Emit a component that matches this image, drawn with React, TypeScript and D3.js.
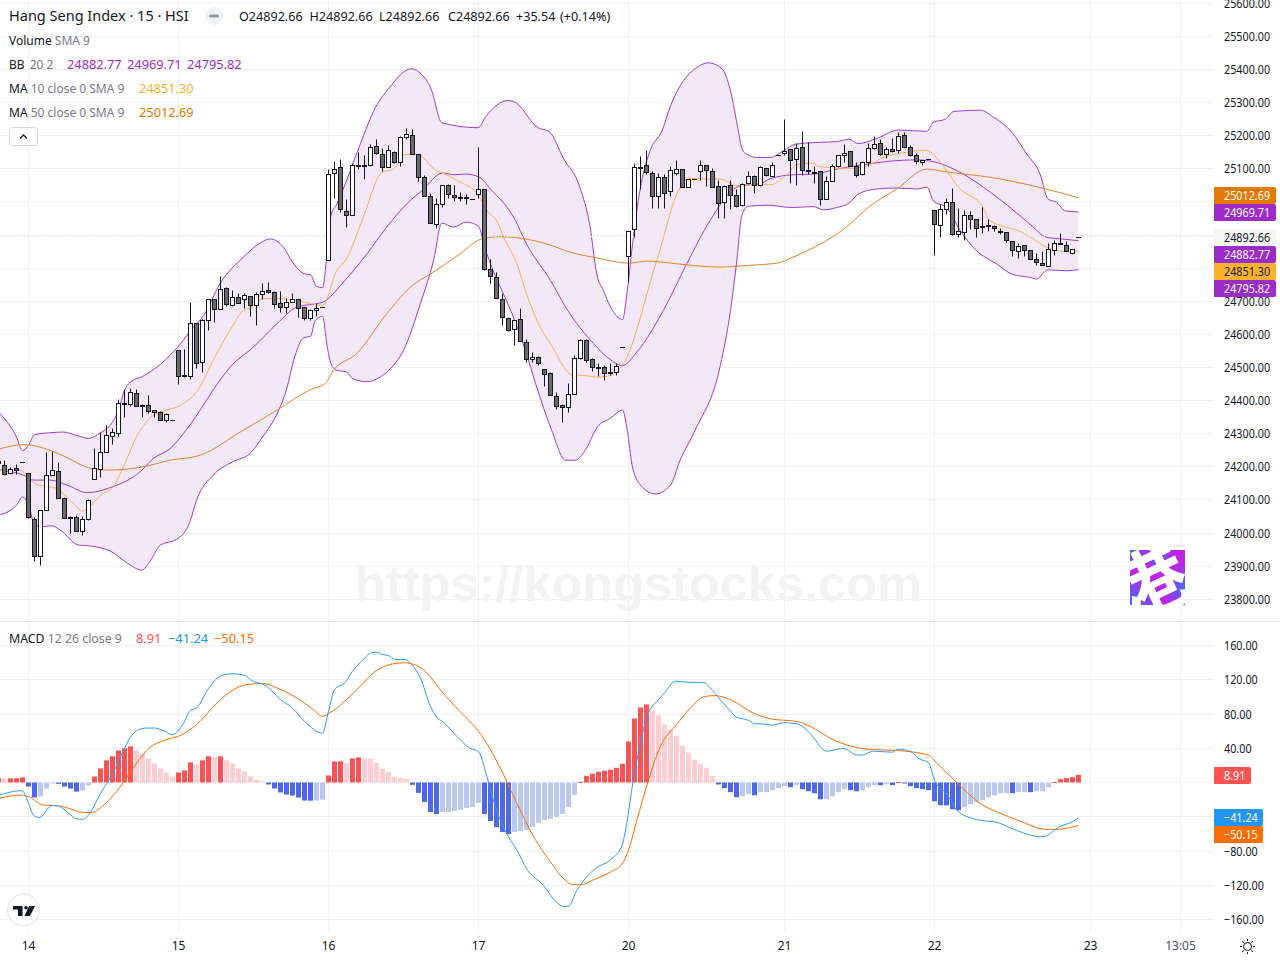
import * as d3 from "d3";
import * as React from "react";

const width = 1280;
const height = 960;
const font = "'Noto Sans', sans-serif";

// candles, one per 15 minute bar
const opens = [
  24217,24203,24180,24194,24214,24179,24041,23929,24068,24173,
  24185,24104,24048,24047,24005,24041,24162,24192,24243,24291,
  24300,24391,24388,24421,24386,24385,24369,24364,24339,24339,
  24551,24475,24472,24632,24515,24641,24704,24674,24738,24686,
  24710,24704,24714,24686,24720,24732,24726,24692,24680,24695,
  24704,24680,24647,24671,24680,24822,25087,25105,24970,24958,
  25111,25110,25111,25166,25142,25105,25148,25118,25193,25202,
  25142,25075,25015,24931,24991,25051,25018,25012,25012,25006,
  25021,25036,24795,24771,24704,24647,24614,24644,24575,24524,
  24530,24493,24481,24412,24385,24379,24418,24527,24581,24524,
  24499,24499,24484,24484,24560,24834,24916,25105,25111,25087,
  25015,25075,25030,25087,25099,25042,25069,25093,25111,25093,
  25045,24997,25051,25018,24988,25057,25078,25051,25102,25078,
  25141,25147,25159,25129,25165,25096,25090,25093,25006,25063,
  25108,25141,25153,25108,25084,25120,25162,25177,25144,25159,
  25156,25201,25165,25141,25120,25129,24975,24930,24978,24999,
  24903,24909,24960,24948,24927,24930,24927,24912,24909,24879,
  24849,24867,24852,24825,24813,24804,24852,24872,24867,24843,
  24892.66,
];
const highs = [
  24225,24220,24198,24207,24214,24179,24047,24067,24243,24247,
  24213,24107,24051,24053,24051,24101,24255,24305,24324,24315,
  24404,24434,24436,24433,24389,24416,24371,24366,24360,24339,
  24551,24555,24695,24632,24644,24704,24704,24775,24741,24733,
  24723,24723,24714,24726,24753,24757,24729,24729,24708,24723,
  24704,24680,24674,24692,24680,25099,25121,25127,25006,25115,
  25150,25140,25172,25187,25160,25169,25151,25196,25221,25218,
  25142,25081,25024,25009,25051,25054,25051,25027,25021,25006,
  25163,25036,24825,24786,24723,24650,24641,24677,24584,24545,
  24533,24493,24484,24424,24388,24451,24536,24584,24584,24527,
  24512,24505,24512,24512,24560,24912,25115,25136,25154,25093,
  25087,25084,25108,25124,25099,25069,25069,25124,25111,25102,
  25066,25051,25066,25036,25057,25093,25081,25108,25102,25120,
  25141,25250,25159,25177,25214,25180,25108,25093,25078,25114,
  25141,25174,25153,25120,25123,25177,25198,25189,25165,25192,
  25211,25211,25171,25147,25126,25129,24975,24993,25009,25039,
  24981,24975,24972,24948,24984,24948,24930,24921,24909,24879,
  24873,24867,24852,24843,24849,24873,24882,24906,24879,24855,
  24892.66,
];
const lows = [
  24202,24173,24178,24178,24214,24043,23915,23903,24068,24173,
  24104,24044,23998,24004,23994,24037,24162,24169,24243,24268,
  24293,24350,24383,24381,24350,24360,24348,24339,24335,24339,
  24449,24471,24465,24498,24486,24613,24637,24674,24685,24683,
  24692,24677,24655,24627,24704,24723,24679,24667,24663,24695,
  24651,24643,24641,24653,24680,24822,25011,24967,24924,24958,
  25097,25068,25108,25142,25092,25105,25115,25108,25187,25142,
  25063,25015,24934,24921,24984,25009,25002,25000,24991,25006,
  25009,24792,24753,24707,24626,24608,24565,24578,24515,24515,
  24505,24444,24415,24373,24333,24363,24418,24524,24515,24487,
  24472,24460,24475,24475,24560,24758,24894,25038,25084,24979,
  24979,24979,25015,25081,25042,25042,25069,25066,25048,25042,
  24949,24949,24976,24982,24985,25054,25024,25048,25078,25078,
  25141,25141,25057,25051,25081,25084,25057,24990,25006,25063,
  25105,25120,25108,25074,25081,25108,25159,25141,25132,25150,
  25147,25165,25138,25114,25111,25129,24837,24891,24963,24900,
  24891,24882,24918,24894,24906,24912,24912,24903,24876,24834,
  24828,24834,24825,24807,24807,24804,24837,24872,24849,24840,
  24892.66,
];
const closes = [
  24210,24176,24192,24190,24214,24047,23929,24067,24173,24189,
  24104,24044,24044,24005,24040,24098,24195,24243,24294,24303,
  24391,24388,24424,24382,24383,24367,24364,24339,24357,24339,
  24472,24473,24632,24512,24641,24704,24674,24735,24689,24710,
  24692,24717,24686,24720,24729,24726,24689,24680,24695,24704,
  24677,24647,24671,24677,24680,25084,25099,24976,24958,25111,
  25108,25108,25163,25145,25105,25154,25118,25193,25205,25142,
  25075,25015,24934,24991,25051,25021,25012,25009,25009,25006,
  25036,24795,24774,24707,24650,24611,24641,24578,24524,24530,
  24512,24478,24415,24382,24379,24418,24527,24581,24521,24499,
  24496,24481,24481,24502,24560,24912,25105,25104,25090,25015,
  25075,25024,25096,25099,25042,25069,25069,25111,25096,25042,
  24994,25048,25018,24985,25054,25078,25051,25105,25081,25111,
  25141,25153,25126,25162,25096,25093,25089,25006,25063,25108,
  25141,25147,25108,25081,25120,25162,25174,25144,25159,25153,
  25198,25165,25141,25123,25126,25129,24933,24978,24999,24903,
  24912,24960,24948,24921,24924,24927,24921,24911,24882,24852,
  24864,24852,24825,24816,24807,24855,24873,24873,24849,24855,
  24892.66,
];

// indicator lines as [bar, value]
const bbUpper = [
  [0,24365],[3,24290],[4,24249],[5,24265],[6,24297],[8.6,24303],[10.8,24305],[13,24295],[15,24286],[17,24303],[18.6,24325],[20,24371],[21,24431],[22,24456],
  [24,24473],[27,24510],[28.6,24537],[30.8,24582],[32,24612],[34.2,24657],[36.9,24753],[40.8,24833],[43,24868],[45.3,24888],[47.5,24863],[49,24818],[51,24783],[52,24780],[53,24745],[54,24741],
  [54.8,24853],[55.4,24959],[56.4,24994],[58,25064],[60.3,25175],[62.8,25284],[65.1,25344],[68.8,25402],[70,25393],[72.1,25341],[73.9,25239],[79.9,25224],[81.3,25260],[84.9,25306],[85.9,25303],[89.9,25224],[91.8,25212],
  [94.2,25130],[96.9,25044],[98.6,24924],[99.7,24783],[100.8,24733],[102.5,24667],[104,24645],[104.8,24733],[105.8,24893],[106.9,25034],[108.6,25155],[110.6,25215],[112,25290],[113.6,25350],[116.1,25402],[118.3,25420],[120.6,25402],[122,25335],
  [123.3,25215],[123.9,25161],[124.8,25143],[126.5,25134],[128.6,25134],[130.8,25154],[132.8,25174],[135.8,25179],[139.7,25182],[141.7,25189],[143.3,25176],[146.4,25192],[150,25217],[154.7,25213],[155.8,25240],[157.8,25250],[159.2,25273],[163.6,25277],[165.9,25255],[168.9,25210],[171.4,25144],[173.6,25084],[174.9,25009],[176.4,24998],[177.8,24973],[180,24969.71],
];
const bbLower = [
  [0,24054],[3,24084],[4,24109],[5,24084],[6,24026],[7,24019],[8.9,24022],[10.3,24009],[13.3,23964],[15.3,23961],[18.9,23943],[21.4,23910],[23.9,23888],[25,23908],[27,23964],[29.7,23981],[31.9,24034],[33,24099],[35.8,24175],[39,24215],[41.9,24240],[44,24290],[46.7,24371],
  [48,24433],[49.2,24522],[50.9,24590],[52,24594],[52.8,24642],[54,24654],[54.8,24562],[55.3,24517],[56.2,24493],[58,24486],[59.1,24466],[61.4,24457],[63.6,24471],[65.3,24496],[67.5,24552],[70.3,24692],[72.5,24823],[73.9,24936],[75.8,24924],[78,24939],[80,24926],[81.1,24858],[82,24813],
  [85.8,24652],[87.8,24552],[89.7,24441],[92.2,24310],[94.5,24220],[96.1,24220],[97.8,24250],[99.8,24320],[102,24347],[104,24371],[104.8,24310],[105.6,24205],[107,24145],[109.5,24118],[112,24145],[113.6,24220],[116.1,24310],[120.3,24506],[122,24672],[123,24815],[123.9,24959],[125,24987],
  [128.6,24990],[130.3,24986],[132.5,24983],[135.8,24986],[137.5,24976],[139.7,24983],[141.9,24998],[143.3,25024],[146.4,25039],[149.7,25042],[153,25039],[154.8,25044],[155.8,25003],[158,24983],[160.3,24913],[163,24853],[166.3,24813],[168.9,24782],[171.9,24772],[173,24767],[174.9,24795],[178,24792],[180,24795.82],
];
const bbMiddle = [
  [0,24190],[4.2,24175],[5.8,24160],[8.6,24160],[11.4,24145],[14.8,24122],[18.9,24139],[23.6,24185],[25.8,24225],[28.6,24255],[30.8,24300],[33.6,24371],[35.8,24433],[38.6,24501],[42.5,24562],[46.4,24632],[49.7,24682],[54,24697],[57.5,24758],[61.4,24843],[64.7,24924],[68.6,25004],[70.6,25034],[74,25087],[76,25082],[77.8,25084],[80,25076],[82,25039],
  [86,24949],[88,24873],[92,24763],[94.7,24677],[99.2,24572],[101.4,24532],[104,24506],[106.4,24547],[110.8,24672],[114.7,24813],[118.6,24944],[123,25044],[124,25049],[127,25055],[128.6,25070],[132.5,25082],[135.8,25084],[139.7,25099],[144.7,25114],[149.2,25124],[153,25127],[156.4,25119],[160.8,25084],[165.3,25029],[168.6,24983],[171.9,24933],[174.7,24893],[177.3,24888],[180,24882.77],
];
const ma10 = [
  [0,24190],[3.6,24190],[5,24170],[6.1,24149],[7.5,24142],[9.5,24136],[12.5,24089],[14,24066],[15.4,24084],[17,24114],[19.2,24141],[20.8,24200],[23.6,24310],[25.8,24355],[27.5,24368],[30.8,24391],[33.3,24433],[35.8,24522],[38.9,24622],[40.8,24672],[42.2,24682],[44.2,24708],[47,24708],[50.3,24700],[54,24687],
  [56.4,24793],[58,24828],[60.8,24954],[63.9,25089],[65.8,25099],[67.8,25143],[69.8,25143],[73.2,25092],[74,25087],[76.5,25064],[80,25020],[81.4,24974],[83,24944],[84.2,24893],[86.4,24813],[88,24723],[90,24632],[92,24572],[95.6,24478],[97.5,24476],[100,24471],[102,24476],[104,24506],
  [109.7,24823],[113.6,25044],[115,25072],[117.5,25069],[120.3,25069],[123,25049],[126.4,25054],[128.6,25052],[131.4,25082],[133,25112],[135.8,25117],[136.6,25107],[141.9,25101],[144.7,25109],[147.5,25134],[150.9,25149],[154.7,25156],[157,25119],[160,25044],[164.2,24981],[165,24948],[168,24923],[170,24913],[172,24893],[175.3,24858],[178,24850],[180,24851.3],
];
const ma50 = [
  [0,24253],[4.2,24267],[8.6,24250],[11.4,24228],[15,24197],[18,24190],[24.7,24202],[28.6,24220],[33.6,24235],[40.3,24305],[46.4,24371],[52,24433],[54.4,24451],[55.8,24491],[59.7,24542],[64.7,24662],[69.2,24751],[71.9,24781],[76.9,24843],[80.5,24888],[83.6,24895],[85.8,24893],[91.4,24873],[95.3,24848],[99.7,24831],[105,24815],[108,24821],[114.7,24810],[120,24803],[124.7,24808],[130,24816],[132,24830],[137,24873],[140.9,24918],[145.3,24988],[149.7,25039],[154.7,25099],[158.6,25089],[164.7,25076],[173,25046],[180,25012.69],
];
const macdLine = [
  [0,-15],[3.9,-9.5],[5,-24],[5.8,-38],[6.8,-41],[8.9,-27],[10,-27.5],[11.7,-36],[13,-42.4],[13.9,-43],[15,-38],[17,-12.7],[19.2,12.7],[20.6,34],[22,53],[23.3,61.6],[24.7,63.6],[26,63.6],[27.5,60.5],[29,55.8],[30.8,68.7],[32,84.3],[33,87],[35,109.7],[36.9,124],[38.9,127],[41.1,125],[42,120],[44.7,112.5],[47,96.8],[49,87],[51,71.4],[54,57.7],[55,83],[56,108.6],[57.8,117],[59,130],[60.3,140],
  [62.2,151.6],[63,152.3],[63.9,149.6],[65,148.4],[66.1,143.7],[67.8,143.7],[68.6,139.8],[70.3,122.2],[72,89],[73,76.5],[74.2,70.2],[76.4,53.8],[78.6,40],[80,36.2],[81.4,6.9],[83,-32.2],[85,-63.5],[86.4,-79],[88,-100.6],[90.8,-120],[93,-139.7],[94.2,-144.8],[95,-144.4],[96.4,-126],[98,-110.4],[99.7,-99.5],[101.9,-90.9],[103.9,-74],[104.7,-47.9],[105.8,3],[107,46],[108,75.3],[110,96.8],[111,104.6],[112.8,118.3],[115.3,117],[117.5,117],[118.6,110.5],[120.3,96.8],
  [121.4,88],[123,76.5],[125,72.6],[126,68.6],[127,68.6],[128.9,67],[130.8,69.8],[133,68.6],[135.8,53],[137.2,40],[138,36.6],[140.8,39.7],[143,32.3],[143.9,31.9],[145.8,36.6],[148.9,35.4],[150,38.9],[152,36.2],[153.6,27.2],[155,23.3],[156.1,1],[158,-12.7],[159.8,-33],[163,-43.2],[166.7,-47.1],[169,-54.1],[174,-63.5],[177,-51],[179,-45.9],[180,-41.24],
];
const signalLine = [
  [0,-18.5],[3.9,-14.6],[5,-16.6],[7.5,-26.3],[10,-27.1],[11.4,-29.5],[14.2,-35],[15.6,-35],[17.2,-28.3],[19.2,-14.6],[21.1,3],[23,22.5],[25.3,41.3],[27.5,49],[30.6,55.8],[33.6,71.4],[36.4,92.9],[39.2,108.5],[41.4,114.4],[44.2,115.6],[46.4,110.5],[49.7,98.8],[52.5,85],[54,77.3],[55,80.4],[58,96.8],[60.3,112.5],
  [62.5,128],[64.7,136.7],[67.5,139.8],[69.7,136.7],[71.4,128],[73.6,108.5],[76.9,83],[80,59.7],[82,38.2],[84.2,8.8],[86.4,-24.4],[89.2,-63.5],[92,-92.8],[94.2,-112.4],[95.8,-119.4],[97,-119.4],[99.2,-113.5],[102,-104.5],[103.9,-95.6],[105,-79],[106.4,-44],[108,-4.8],[110.3,42],[113,67.5],[115.3,87],[117.5,100],[119.2,101.5],[120.3,100.7],
  [122,96.8],[125.8,81],[129,74],[133,71.4],[135.8,63.6],[138.9,50.7],[143.6,40],[146.4,38.2],[149.7,37.4],[155,31.9],[156.4,22.5],[159.7,0],[163.6,-24.4],[166.4,-34.2],[170.3,-45.1],[174.2,-54.5],[175.8,-54.9],[178.7,-52.5],[180,-50.15],
];
const histogram = [
  5,4.7,4.8,4.9,5.9,-4.7,-17.6,-16.4,-7,-1,
  -1.5,-4.7,-7,-10.6,-9.4,-3.5,7,16.4,25.8,30.5,
  37.5,39.9,42.2,37.5,34,28.2,22.3,16.4,11.7,7,
  11.7,14.1,23.5,21.1,25.8,30.5,29.3,30.5,25.8,22.3,
  16.4,12.9,7,3.5,1.2,-2.3,-7,-11.7,-14.1,-15.2,
  -17.6,-21.1,-21.2,-21,-20,8.2,24.6,24.7,22.3,28.2,
  29.3,27.8,27.7,23,16,12.5,6.6,5.5,4.3,-2.7,
  -12.1,-22.7,-34.4,-36.8,-34.4,-34.3,-33.2,-32,-29.7,-28.5,
  -23.9,-36.8,-45,-52,-57.9,-60.2,-57.9,-56.7,-55.5,-52,
  -47.3,-43.8,-42.6,-40.3,-36.8,-28.5,-14.5,0.8,7.8,10.2,
  12.5,13.7,14.9,17.2,21.9,47.7,74.7,87.6,91.1,84,
  78.2,67.6,61.8,54.7,43,34.8,26.6,21.9,17.2,7.8,
  -2.3,-6.6,-11.3,-17.2,-16,-13.7,-14.9,-11.3,-11.2,-9,
  -6.6,-4.3,-5.5,-3.1,-7.8,-10.2,-12.5,-19.6,-19.5,-16,
  -11.3,-7.8,-9,-10.2,-9,-5.5,-3.1,-3.2,-2,-3.1,
  0.6,-0.6,-4.3,-6.6,-7.8,-9,-21.9,-26.6,-26.7,-31.3,
  -32.5,-28.9,-25.4,-23,-20.7,-17.2,-14.9,-12.5,-12.4,-12.5,
  -11.3,-11.2,-11.3,-10.2,-10.1,-5.5,0.6,3.9,5.1,6.3,
  8.91,
];

const priceTicks = d3.range(23800, 25700, 100);
// the three levels under the price tags have no visible label
const priceLabels = priceTicks.filter((t) => ![24800, 24900, 25000].includes(t));
const macdTicks = [160, 120, 80, 40, 0, -40, -80, -120, -160];
const macdLabels = [160, 120, 80, 40, -80, -120, -160];
const timeBars = [5, 30, 55, 80, 105, 131, 156, 182, 197];
const timeLabels = ["14", "15", "16", "17", "20", "21", "22", "23", "13:05"];

const priceTags = [
  { value: "25012.69", cy: 195.5, w: 62, bg: "#e57a00", fg: "#fff" },
  { value: "24969.71", cy: 212.5, w: 62, bg: "#9c2bc9", fg: "#fff" },
  { value: "24892.66", cy: 237.5, w: 62, bg: "#f6f6f6", fg: "#131722" },
  { value: "24882.77", cy: 254.5, w: 62, bg: "#9c2bc9", fg: "#fff" },
  { value: "24851.30", cy: 271.5, w: 62, bg: "#fbb22b", fg: "#131722" },
  { value: "24795.82", cy: 288.5, w: 62, bg: "#9c2bc9", fg: "#fff" },
  { value: "8.91", cy: 775.5, w: 37, bg: "#ff5252", fg: "#fff" },
  { value: "−41.24", cy: 817.5, w: 49, bg: "#2196f3", fg: "#fff" },
  { value: "−50.15", cy: 834.5, w: 49, bg: "#ff6d00", fg: "#fff" },
];
const ohlcText = [
  { x: 239, t: "O24892.66" },
  { x: 309.5, t: "H24892.66" },
  { x: 379, t: "L24892.66" },
  { x: 448, t: "C24892.66" },
  { x: 516, t: "+35.54" },
  { x: 560, t: "(+0.14%)" },
];
const bbText = [
  { x: 67, t: "24882.77" },
  { x: 127, t: "24969.71" },
  { x: 187, t: "24795.82" },
];

const x = d3.scaleLinear().domain([0, 180]).range([-1.5, 1078.5]);
const y = d3.scaleLinear().domain([23800, 25600]).range([599.3, 3.2]);
const yMacd = d3.scaleLinear().domain([-160, 160]).range([919.5, 645.5]);

const crisp = (v: number) => Math.round(v - 0.5) + 0.5;

const priceLine = d3.line<number[]>().x((d) => x(d[0])).y((d) => y(d[1])).curve(d3.curveMonotoneX);
const macdPath = d3.line<number[]>().x((d) => x(d[0])).y((d) => yMacd(d[1])).curve(d3.curveMonotoneX);

const bandPath = (() => {
  const up = priceLine(bbUpper) as string;
  const low = priceLine([...bbLower].reverse()) as string;
  return up + "L" + low.slice(1) + "Z";
})();

const barColor = (i: number) => {
  const v = histogram[i];
  const prev = i > 0 ? histogram[i - 1] : v;
  if (v >= 0) return v >= prev ? "#ff5252" : "#ffcdd2";
  return v < prev ? "#4e68ed" : "#bbc8f2";
};

// axis digits are narrower than the font's own
const AxisText = ({ cy, fill, children }: any) => (
  <text transform={`translate(1224,${cy + 4.5}) scale(0.9,1)`} fontSize={12} fill={fill}>{children}</text>
);

export default function App() {
  const grid = "#f0f1f4";
  const purple = "#9f3dcd";
  return (
    <svg
      width={width}
      height={height}
      viewBox={`0 0 ${width} ${height}`}
      style={{ position: "absolute", left: 0, top: 0, background: "#fff", fontFamily: font }}
    >
      <defs>
        <clipPath id="logoClip"><rect x={1130} y={550} width={55} height={55} /></clipPath>
        <radialGradient id="logoBlue">
          <stop offset="0" stopColor="#3f6ff0" />
          <stop offset="1" stopColor="#3f6ff0" stopOpacity={0} />
        </radialGradient>
      </defs>

      {/* grid */}
      {priceTicks.map((t) => (
        <line key={t} x1={0} x2={1214} y1={crisp(y(t))} y2={crisp(y(t))} stroke={grid} />
      ))}
      {macdTicks.map((t) => (
        <line key={t} x1={0} x2={1214} y1={crisp(yMacd(t))} y2={crisp(yMacd(t))} stroke={grid} />
      ))}
      {timeBars.map((b) => (
        <line key={b} x1={crisp(x(b))} x2={crisp(x(b))} y1={0} y2={932} stroke={grid} />
      ))}
      <line x1={0} x2={1280} y1={621.5} y2={621.5} stroke="#e0e3eb" />

      {/* watermark */}
      <text x={638.5} y={601} textAnchor="middle" fontFamily="'Liberation Sans', sans-serif" fontWeight={700} fontSize={50.5} fill="#f3f3f3">
        https://kongstocks.com
      </text>

      {/* logo */}
      <g clipPath="url(#logoClip)">
        <rect x={1130} y={550} width={55} height={55} fill="#c022ea" />
        <circle cx={1130} cy={605} r={34} fill="url(#logoBlue)" />
        <circle cx={1130} cy={550} r={22} fill="url(#logoBlue)" />
        <circle cx={1185} cy={588} r={24} fill="url(#logoBlue)" />
        <circle cx={1160} cy={560} r={14} fill="url(#logoBlue)" />
        <text x={0} y={0} textAnchor="middle" fontFamily="'Noto Sans CJK SC'" fontWeight={700} fontSize={74} fill="#fff"
          transform="translate(1161,608) rotate(-25)">港</text>
      </g>

      {/* bollinger band */}
      <path d={bandPath} fill="#f3e8f8" />
      <path d={priceLine(bbUpper) as string} fill="none" stroke={purple} />
      <path d={priceLine(bbLower) as string} fill="none" stroke={purple} />
      <path d={priceLine(bbMiddle) as string} fill="none" stroke={purple} />
      <path d={priceLine(ma10) as string} fill="none" stroke="#fbb04d" />
      <path d={priceLine(ma50) as string} fill="none" stroke="#e9832a" />

      {/* last price line */}
      <line x1={0} x2={1214} y1={236.5} y2={236.5} stroke="#e6e6e6" strokeDasharray="1 2" />

      {/* candles */}
      {opens.map((o, i) => {
        const c = closes[i];
        const cx = crisp(x(i));
        const top = crisp(y(Math.max(o, c)));
        const bottom = crisp(y(Math.min(o, c)));
        const flat = highs[i] === lows[i];
        if (flat) {
          return <line key={i} x1={cx - 2.5} x2={cx + 2.5} y1={top} y2={top} stroke="#131722" />;
        }
        return (
          <g key={i}>
            <line x1={cx} x2={cx} y1={crisp(y(highs[i]))} y2={crisp(y(lows[i]))} stroke="#131722" />
            <rect x={cx - 2} width={4} y={top} height={Math.max(bottom - top, 1)}
              fill={c >= o ? "#ffffff" : "#6a6a6a"} stroke="#131722" />
          </g>
        );
      })}

      {/* macd */}
      {histogram.map((v, i) => (
        <rect key={i} x={crisp(x(i)) - 2.5} width={5}
          y={Math.min(yMacd(v), yMacd(0))} height={Math.max(Math.abs(yMacd(v) - yMacd(0)), 1)}
          fill={barColor(i)} />
      ))}
      <path d={macdPath(signalLine) as string} fill="none" stroke="#ff6d00" />
      <path d={macdPath(macdLine) as string} fill="none" stroke="#2f9bf3" />

      {/* axis labels */}
      {priceLabels.map((t) => (
        <AxisText key={t} cy={y(t)} fill="#131722">{t.toFixed(2)}</AxisText>
      ))}
      {macdLabels.map((t) => (
        <AxisText key={t} cy={yMacd(t)} fill="#131722">
          {t < 0 ? "−" + Math.abs(t).toFixed(2) : t.toFixed(2)}
        </AxisText>
      ))}
      {priceTags.map((t) => (
        <g key={t.value}>
          <path d={`M1214,${t.cy - 8.5}H${1212 + t.w}a2,2 0 0 1 2,2V${t.cy + 6.5}a2,2 0 0 1 -2,2H1214Z`} fill={t.bg} />
          <AxisText cy={t.cy} fill={t.fg}>{t.value}</AxisText>
        </g>
      ))}
      {timeLabels.map((t, i) => (
        <text key={t} x={crisp(x(timeBars[i]))} y={950} fontSize={12} textAnchor="middle"
          fill={t === "13:05" ? "#50535e" : "#131722"}>{t}</text>
      ))}

      {/* settings icon */}
      <g stroke="#131722" fill="none" transform="translate(1247.5,946.5)">
        <circle r={4} />
        {d3.range(8).map((k) => (
          <line key={k} x1={0} x2={0} y1={-5.5} y2={-7.5} transform={`rotate(${k * 45})`} />
        ))}
      </g>

      {/* tradingview badge */}
      <circle cx={23.5} cy={910} r={16} fill="#fff" stroke="#e0e3eb" />
      <path d="M13,906H22.5V916H18V909.5H13Z M29,906H35L30,916H24.5Z" fill="#131722" />
      <circle cx={26} cy={907.8} r={1.8} fill="#131722" />

      {/* legends */}
      <text x={9} y={21} fontSize={14.5} fill="#131722">Hang Seng Index · 15 · HSI</text>
      <circle cx={214} cy={16} r={9} fill="#f0f1f4" />
      <rect x={209} y={14.5} width={10} height={3} rx={1.5} fill="#9598a1" />
      {ohlcText.map((d) => (
        <text key={d.t} x={d.x} y={21} fontSize={12.6} fill="#131722">{d.t}</text>
      ))}

      <text x={9} y={45} fontSize={12} fill="#131722">Volume <tspan fill="#787b86">SMA 9</tspan></text>
      <text x={9} y={69} fontSize={12} fill="#131722">BB <tspan fill="#787b86" dx={2}>20 2</tspan></text>
      {bbText.map((d) => (
        <text key={d.t} x={d.x} y={69} fontSize={12.8} fill="#a32cd0">{d.t}</text>
      ))}
      <text x={9} y={93} fontSize={12} fill="#131722">MA <tspan fill="#787b86">10 close 0 SMA 9</tspan></text>
      <text x={139} y={93} fontSize={12.8} fill="#fbb22b">24851.30</text>
      <text x={9} y={117} fontSize={12} fill="#131722">MA <tspan fill="#787b86">50 close 0 SMA 9</tspan></text>
      <text x={139} y={117} fontSize={12.8} fill="#e57a00">25012.69</text>
      <rect x={9.5} y={127.5} width={28} height={18} rx={3} fill="#fff" stroke="#d6d8e0" />
      <path d="M20,138.5L23.5,135L27,138.5" fill="none" stroke="#131722" strokeWidth={1.3} />

      <text x={9} y={643} fontSize={12.3} fill="#131722">MACD <tspan fill="#787b86">12 26 close 9</tspan></text>
      <text x={136} y={643} fontSize={12.8} fill="#ff5252">8.91</text>
      <text x={168} y={643} fontSize={12.8} fill="#2196f3">−41.24</text>
      <text x={214} y={643} fontSize={12.8} fill="#ff6d00">−50.15</text>
    </svg>
  );
}
